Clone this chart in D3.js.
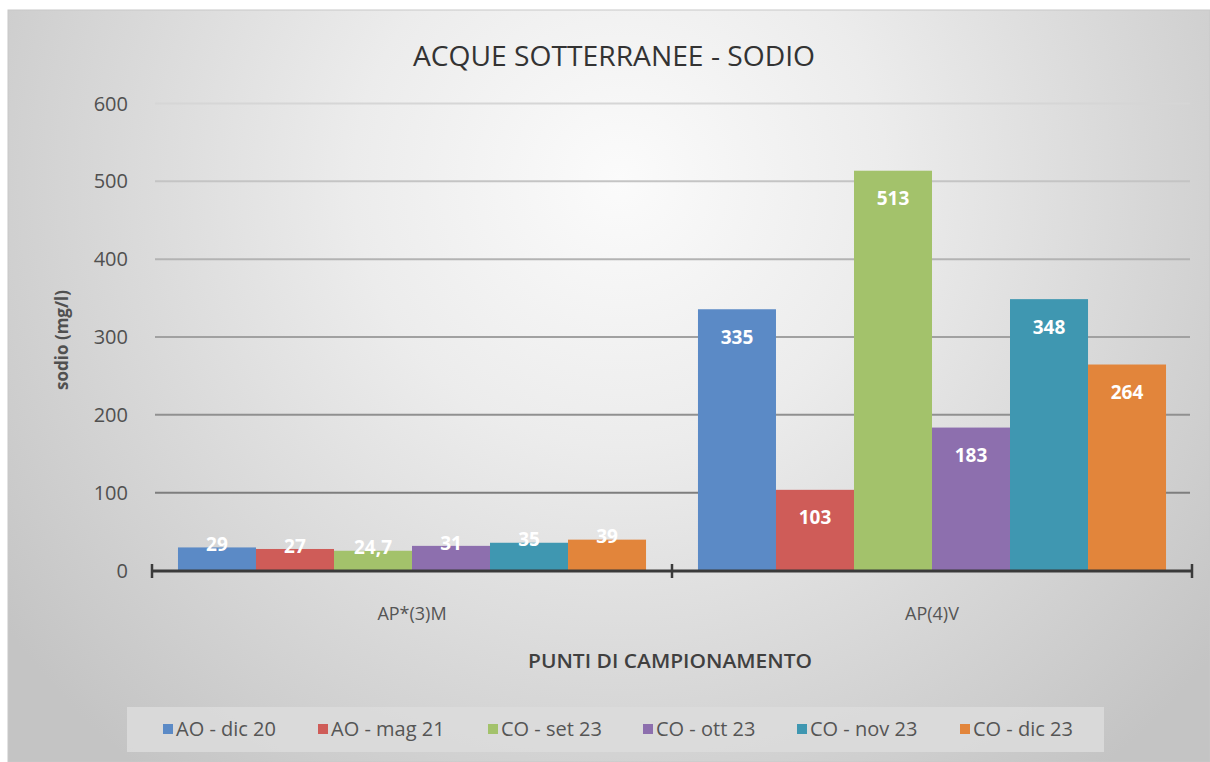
<!DOCTYPE html>
<html><head><meta charset="utf-8">
<script src="https://cdn.jsdelivr.net/npm/d3@7"></script>
<style>
html,body{margin:0;padding:0;background:#fff;}
svg{display:block;font-family:"Open Sans","Liberation Sans",sans-serif;}
</style></head>
<body>
<svg id="c" width="1210" height="762"></svg>
<script>
const categories = ["AP*(3)M", "AP(4)V"];
const seriesNames = ["AO - dic 20", "AO - mag 21", "CO - set 23", "CO - ott 23", "CO - nov 23", "CO - dic 23"];
const seriesColors = ["#5b8ac6", "#cf5c58", "#a3c26b", "#8d6fae", "#3f97b1", "#e2853b"];
const valuesAP3M = [29, 27, 24.7, 31, 35, 39];
const valuesAP4V = [335, 103, 513, 183, 348, 264];
const yTicks = [0, 100, 200, 300, 400, 500, 600];

const allValues = [valuesAP3M, valuesAP4V];
const svg = d3.select("#c");
const defs = svg.append("defs");
const rg = defs.append("radialGradient").attr("id","bg").attr("gradientUnits","userSpaceOnUse")
  .attr("cx",620).attr("cy",180).attr("r",760);
rg.append("stop").attr("offset","0").attr("stop-color","#fbfbfb");
rg.append("stop").attr("offset","0.35").attr("stop-color","#ececec");
rg.append("stop").attr("offset","1").attr("stop-color","#c4c4c4");

svg.append("rect").attr("x",8).attr("y",10).attr("width",1202).attr("height",752).attr("fill","url(#bg)")
  .attr("stroke","#c8c8c8").attr("stroke-width",1);

const y = d3.scaleLinear().domain([0,600]).range([570,103]);
const x0 = d3.scaleBand().domain(categories).range([152,1192]).paddingInner(0).paddingOuter(0);
const x1 = d3.scaleBand().domain(seriesNames).range([0,x0.bandwidth()]).paddingInner(0).paddingOuter(0.333);

const gridCol = d3.scaleLinear().domain([100,600]).range(["#7e7e7e","#d6d6d6"]);
const gridAxis = d3.axisLeft(y).tickValues(yTicks.filter(t=>t>0)).tickSize(-(1190-155)).tickFormat("");
const gg = svg.append("g").attr("transform","translate(155,0)").call(gridAxis);
gg.select(".domain").remove();
gg.selectAll(".tick line").attr("stroke",d=>gridCol(d)).attr("stroke-width",2);

// y tick labels
const yAxis = d3.axisLeft(y).tickValues(yTicks).tickSize(0).tickPadding(0);
const ya = svg.append("g").attr("transform","translate(128,0)").call(yAxis);
ya.attr("font-family","'Open Sans',sans-serif").attr("font-size",20);
ya.select(".domain").remove();
ya.selectAll("text").attr("fill","#505050").attr("dy","0.35em");

// bars
const groups = svg.append("g").selectAll("g").data(categories).join("g")
  .attr("transform",d=>`translate(${x0(d)},0)`);
groups.selectAll("rect").data((d,i)=>allValues[i].map((v,j)=>({v, s:seriesNames[j], c:seriesColors[j]})))
  .join("rect")
  .attr("x",d=>x1(d.s)).attr("width",x1.bandwidth())
  .attr("y",d=>y(d.v)).attr("height",d=>y(0)-y(d.v))
  .attr("fill",d=>d.c);
groups.selectAll("text").data((d,i)=>allValues[i].map((v,j)=>({v, s:seriesNames[j]})))
  .join("text")
  .attr("x",d=>x1(d.s)+x1.bandwidth()/2)
  .attr("y",d=>(y(0)-y(d.v))<60 ? y(d.v)-3 : y(d.v)+28)
  .attr("dy","0.35em").attr("text-anchor","middle")
  .attr("fill","#fff").attr("font-weight","bold").attr("font-size",19)
  .text(d=>String(d.v).replace(".",","));

// x axis
svg.append("line").attr("x1",152).attr("x2",1192).attr("y1",y(0)+1).attr("y2",y(0)+1).attr("stroke","#3a3a3a").attr("stroke-width",3);
const tickXs = [x0.range()[0], ...categories.slice(1).map(c=>x0(c)), x0.range()[1]];
svg.append("g").selectAll("line").data(tickXs).join("line")
  .attr("x1",d=>d).attr("x2",d=>d).attr("y1",y(0)-6).attr("y2",y(0)+8).attr("stroke","#3a3a3a").attr("stroke-width",2.5);
svg.append("g").selectAll("text").data(categories).join("text")
  .attr("x",d=>x0(d)+x0.bandwidth()/2).attr("y",614).attr("dy","0.35em").attr("text-anchor","middle")
  .attr("font-size",18).attr("fill","#555").text(d=>d);

// titles
svg.append("text").attr("x",614).attr("y",56).attr("dy","0.35em").attr("text-anchor","middle")
  .attr("font-size",28).attr("font-weight","500").attr("fill","#333")
  .attr("textLength",402).attr("lengthAdjust","spacingAndGlyphs")
  .text("ACQUE SOTTERRANEE - SODIO");
svg.append("text").attr("transform","translate(62,340) rotate(-90)").attr("dy","0.35em").attr("text-anchor","middle")
  .attr("font-size",17).attr("font-weight","bold").attr("fill","#505050").text("sodio (mg/l)");
svg.append("text").attr("x",670).attr("y",661).attr("dy","0.35em").attr("text-anchor","middle")
  .attr("font-size",20).attr("font-weight","600").attr("fill","#404040")
  .attr("textLength",284).attr("lengthAdjust","spacingAndGlyphs").text("PUNTI DI CAMPIONAMENTO");

// legend
svg.append("rect").attr("x",127).attr("y",707).attr("width",977).attr("height",45).attr("fill","#dcdcdc").attr("fill-opacity",0.85);
const legX = [163, 318, 488, 643, 797, 960];
const lg = svg.append("g").selectAll("g").data(seriesNames).join("g")
  .attr("transform",(d,i)=>`translate(${legX[i]},729)`);
lg.append("rect").attr("x",0).attr("y",-5).attr("width",10).attr("height",10).attr("fill",(d,i)=>seriesColors[i]);
lg.append("text").attr("x",13).attr("dy","0.35em").attr("font-size",20).attr("fill","#555")
  .text(d=>d);
</script>
</body></html>
